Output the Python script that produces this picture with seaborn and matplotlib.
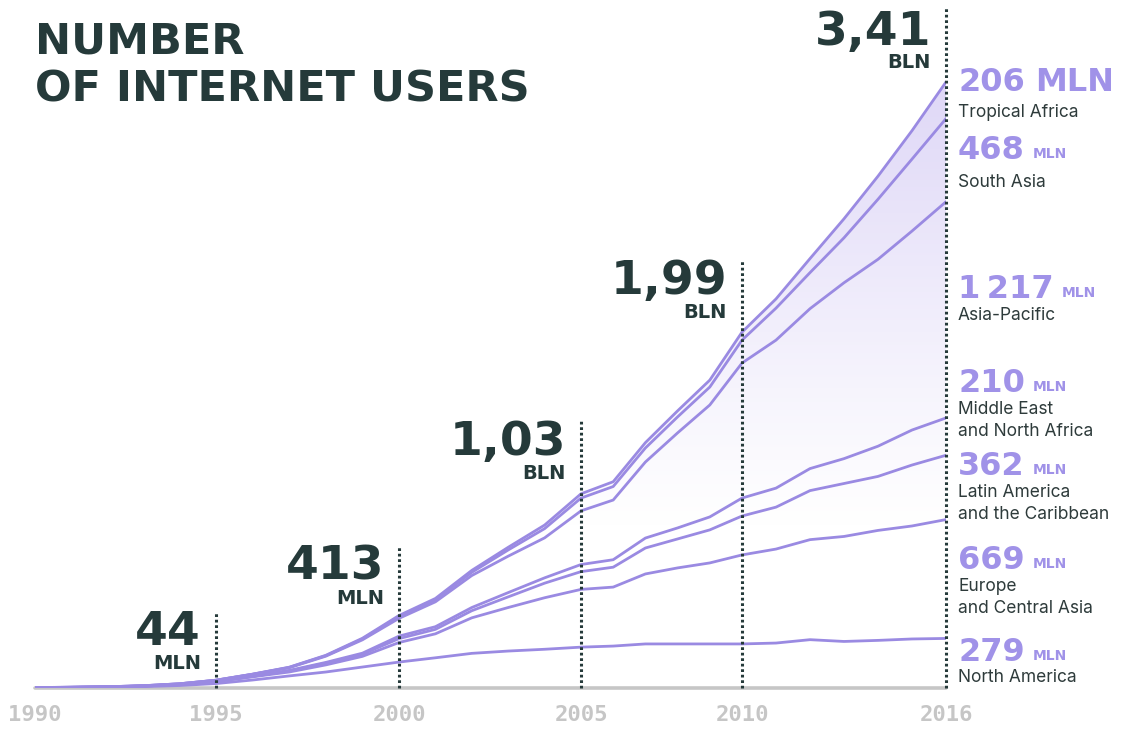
import numpy as np
import pandas as pd
import matplotlib
matplotlib.use("Agg")
import matplotlib.pyplot as plt
import seaborn as sns

# ---------------- data (million users) ----------------
years = list(range(1990, 2017))
north_america = [2.0, 3.0, 4.5, 8, 14, 25, 45, 68, 90, 118, 146, 170, 195, 208, 218, 230, 236, 248, 248, 248, 248, 253, 272, 262, 268, 276, 279]
europe = [0.4, 0.8, 1.5, 3, 6, 11, 18, 22, 40, 60, 110, 135, 200, 245, 290, 325, 332, 394, 428, 456, 501, 529, 563, 591, 619, 636, 669]
latin_america = [0, 0, 0.1, 0.2, 0.5, 1, 2, 6, 10, 12, 22, 25, 40, 60, 82, 100, 112, 146, 163, 186, 219, 236, 276, 298, 304, 343, 362]
mena = [0, 0, 0, 0.1, 0.2, 0.5, 1, 3, 4, 6, 14, 15, 18, 24, 30, 40, 42, 56, 62, 73, 101, 107, 124, 140, 170, 197, 210]
asia_pacific = [0.2, 0.4, 0.8, 1.5, 3, 6, 11, 15, 35, 75, 100, 140, 180, 205, 225, 302, 336, 428, 535, 630, 760, 833, 900, 990, 1052, 1120, 1217]
south_asia = [0, 0, 0, 0, 0.1, 0.3, 0.5, 2, 3, 5, 10, 12, 18, 35, 52, 72, 76, 79, 90, 101, 129, 180, 203, 253, 338, 405, 468]
tropical_africa = [0, 0, 0, 0, 0.1, 0.3, 0.5, 1, 2, 4, 6, 7, 11, 15, 20, 24, 27, 30, 34, 39, 45, 52, 79, 107, 130, 160, 206]

regions = ["North America", "Europe and Central Asia", "Latin America and the Caribbean",
           "Middle East and North Africa", "Asia-Pacific", "South Asia", "Tropical Africa"]
series = [north_america, europe, latin_america, mena, asia_pacific, south_asia, tropical_africa]

tick_years = [1990, 1995, 2000, 2005, 2010, 2016]
milestone_years = [1995, 2000, 2005, 2010, 2016]
milestone_numbers = ["44", "413", "1,03", "1,99", "3,41"]
milestone_units = ["MLN", "MLN", "BLN", "BLN", "BLN"]

right_numbers = ["206", "468", "1\u2009217", "210", "362", "669", "279"]
right_units = ["MLN", "MLN", "MLN", "MLN", "MLN", "MLN", "MLN"]
right_names = ["Tropical Africa", "South Asia", "Asia-Pacific", "Middle East\nand North Africa",
               "Latin America\nand the Caribbean", "Europe\nand Central Asia", "North America"]

# ---------------- style ----------------
W, H = 1136, 730
DARK = "#253a3a"
LINE = "#9a8ae2"
LABEL = "#a092e8"
GREY = "#c6c6c6"
# the original's year axis is slightly uneven: pixel anchor of each tick year
tick_px = [35, 216, 399, 581, 742, 946]

sns.set_theme(style="white")
plt.rcParams["font.family"] = ["DejaVu Sans"]

fig = plt.figure(figsize=(W / 100, H / 100), dpi=100)
ax_left, ax_right, ax_base = 35, 946, 688
ax = fig.add_axes([ax_left / W, (H - ax_base) / H, (ax_right - ax_left) / W, ax_base / H])


def fwd(x):
    return np.interp(x, tick_years, tick_px)


def inv(p):
    return np.interp(p, tick_px, tick_years)


ax.set_xscale("function", functions=(fwd, inv))

# cumulative (stacked) lines
cum = np.cumsum(np.array(series, dtype=float), axis=0)
long = pd.DataFrame({
    "year": np.tile(years, len(regions)),
    "users": cum.ravel(),
    "region": np.repeat(regions, len(years)),
})
sns.lineplot(data=long, x="year", y="users", hue="region", hue_order=regions,
             palette=[LINE] * len(regions), legend=False, errorbar=None,
             linewidth=2.0, ax=ax, zorder=3)

px_per_unit = 606.0 / cum[-1, -1]
ymax = ax_base / px_per_unit
ax.set_xlim(1990, 2016)
ax.set_ylim(0, ymax)

# gradient fill under the total line (vertical gradient, clipped to the area)
poly = ax.fill_between(years, 0, cum[-1], color="none", lw=0)
frac = np.linspace(0, 1, 400)
vals = frac * ymax
alpha = np.clip((vals - 900) / (cum[-1, -1] - 900), 0, 1) ** 1.1 * 0.9
rgba = np.zeros((400, 1, 4))
rgba[..., 0], rgba[..., 1], rgba[..., 2] = 0.86, 0.83, 0.965
rgba[:, 0, 3] = alpha
im = ax.imshow(rgba, extent=[0, 1, 0, 1], origin="lower", aspect="auto",
               transform=ax.transAxes, zorder=1)
im.set_clip_path(poly.get_paths()[0], transform=ax.transData)
ax.set_xlim(1990, 2016)
ax.set_ylim(0, ymax)

# baseline
ax.axhline(0, color=GREY, lw=2.6, zorder=2, clip_on=False)
for s in ax.spines.values():
    s.set_visible(False)
ax.set_yticks([])
ax.set_xticks(tick_years)
ax.set_xticks([], minor=True)
ax.set_xticklabels([str(y) for y in tick_years], family="DejaVu Sans Mono",
                   fontweight="bold", fontsize=16, color=GREY)
ax.tick_params(axis="x", length=0, pad=12)
ax.set_xlabel("")
ax.set_ylabel("")

# milestone dotted lines + annotations
dot_tops = [612, 545, 420, 260, 6]
num_base = [645, 580, 455, 294, 45]
unit_base = [669, 604, 479, 318, 68]
for yr, top, nb, ub, num, unit in zip(milestone_years, dot_tops, num_base, unit_base,
                                      milestone_numbers, milestone_units):
    ax.axvline(yr, ymin=0, ymax=(ax_base - top) / ax_base, color=DARK, lw=2.2,
               linestyle=(0, (0.9, 0.9)), zorder=4, clip_on=False)
    xpx = ax.transData.transform((yr, 0))[0]
    fig.text((xpx - 15) / W, 1 - nb / H, num, ha="right", va="baseline",
             fontsize=34, fontweight="bold", color=DARK)
    fig.text((xpx - 15) / W, 1 - ub / H, unit, ha="right", va="baseline",
             fontsize=14, fontweight="bold", color=DARK)

# title
fig.text(35 / W, 1 - 53 / H, "NUMBER", ha="left", va="baseline", fontsize=31,
         fontweight="bold", color=DARK)
fig.text(35 / W, 1 - 101 / H, "OF INTERNET USERS", ha="left", va="baseline",
         fontsize=31, fontweight="bold", color=DARK)

# right-hand labels
fig.canvas.draw()
renderer = fig.canvas.get_renderer()
x_end = ax.transData.transform((2016, 0))[0]
lx = x_end + 12
num_bl = [91, 159, 298, 392, 475, 569, 661]
name_bl = [117, 187, 320, 414, 497, 591, 682]
for i, (num, unit, name) in enumerate(zip(right_numbers, right_units, right_names)):
    t = fig.text(lx / W, 1 - num_bl[i] / H, num, ha="left", va="baseline",
                 fontsize=23, fontweight="bold", color=LABEL)
    bb = t.get_window_extent(renderer)
    if i == 0:
        fig.text((bb.x1 + 10) / W, 1 - num_bl[i] / H, unit, ha="left", va="baseline",
                 fontsize=23, fontweight="bold", color=LABEL)
    else:
        fig.text((bb.x1 + 8) / W, 1 - (num_bl[i] - 1) / H, unit, ha="left", va="baseline",
                 fontsize=10, fontweight="bold", color=LABEL)
    for j, line in enumerate(name.split("\n")):
        fig.text(lx / W, 1 - (name_bl[i] + 22 * j) / H, line, ha="left", va="baseline",
                 fontsize=12.5, family=["Inter", "DejaVu Sans"], color="#2e3b3b")

fig.savefig("out.png", dpi=100)
